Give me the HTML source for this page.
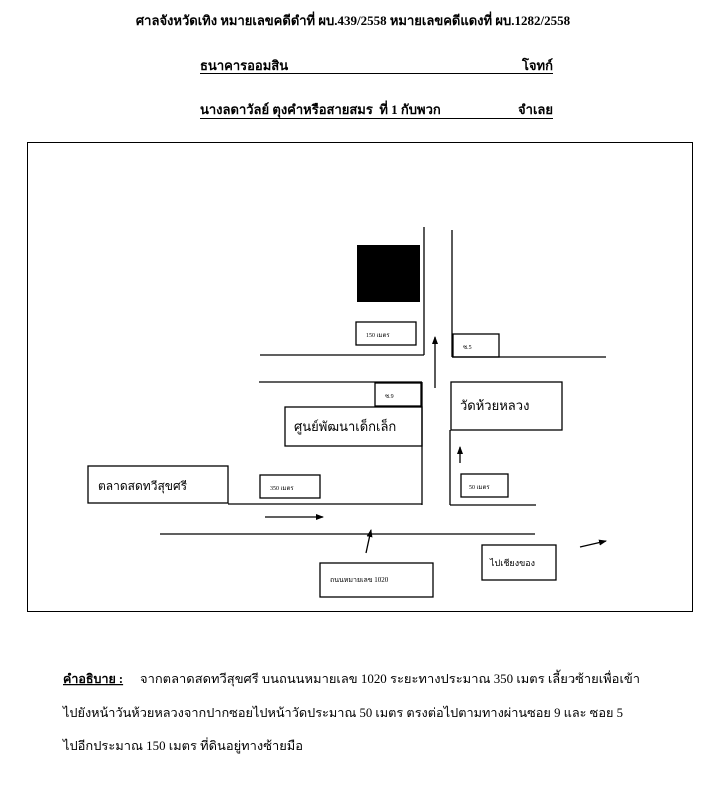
<!DOCTYPE html>
<html><head><meta charset="utf-8"><style>
body{margin:0;width:707px;height:800px;background:#fff;overflow:hidden}
svg{position:absolute;left:0;top:0}
text{font-family:"Liberation Serif","DejaVu Serif",serif;fill:#000}
</style></head><body>
<svg width="707" height="800" viewBox="0 0 707 800">
<defs><marker id="a" markerWidth="8" markerHeight="8" refX="7" refY="4" orient="auto" markerUnits="userSpaceOnUse"><path d="M0,1 L8,4 L0,7 Z" fill="#000"/></marker></defs>
<text x="353" y="25" font-size="13" font-weight="bold" text-anchor="middle">ศาลจังหวัดเทิง หมายเลขคดีดำที่ ผบ.439/2558 หมายเลขคดีแดงที่ ผบ.1282/2558</text>
<text x="200" y="70" font-size="13" font-weight="bold">ธนาคารออมสิน</text>
<text x="553" y="70" font-size="13" font-weight="bold" text-anchor="end">โจทก์</text>
<line x1="200" y1="73.5" x2="553" y2="73.5" stroke="#000" stroke-width="1"/>
<text x="200" y="114" font-size="13" font-weight="bold">นางลดาวัลย์ ตุงคำหรือสายสมร &#160;ที่ 1 กับพวก</text>
<text x="553" y="114" font-size="13" font-weight="bold" text-anchor="end">จำเลย</text>
<line x1="200" y1="118.5" x2="553" y2="118.5" stroke="#000" stroke-width="1"/>
<rect x="27.5" y="142.5" width="665" height="469" fill="none" stroke="#000" stroke-width="1"/>
<g stroke="#000" stroke-width="1.3" fill="none">
<line x1="424" y1="227" x2="424" y2="355"/>
<line x1="260" y1="355" x2="424" y2="355"/>
<line x1="452" y1="230" x2="452" y2="357"/>
<line x1="452" y1="357" x2="606" y2="357"/>
<line x1="259" y1="382" x2="422" y2="382"/>
<line x1="422" y1="382" x2="422" y2="505"/>
<line x1="450" y1="430" x2="450" y2="505"/>
<line x1="450" y1="505" x2="536" y2="505"/>
<line x1="228" y1="504" x2="422" y2="504"/>
<line x1="160" y1="534" x2="535" y2="534"/>
<rect x="356" y="322" width="60" height="23"/>
<rect x="453" y="334" width="46" height="23"/>
<rect x="375" y="383" width="46" height="23"/>
<rect x="285" y="407" width="137" height="39"/>
<rect x="451" y="382" width="111" height="48"/>
<rect x="461" y="474" width="47" height="23"/>
<rect x="260" y="475" width="60" height="23"/>
<rect x="88" y="466" width="140" height="37"/>
<rect x="320" y="563" width="113" height="34"/>
<rect x="482" y="545" width="74" height="35"/>
<line x1="435" y1="388" x2="435" y2="337" marker-end="url(#a)"/>
<line x1="460" y1="463" x2="460" y2="447" marker-end="url(#a)"/>
<line x1="265" y1="517" x2="323" y2="517" marker-end="url(#a)"/>
<line x1="366" y1="553" x2="371" y2="530" marker-end="url(#a)"/>
<line x1="580" y1="547" x2="606" y2="541" marker-end="url(#a)"/>
</g>
<rect x="357" y="245" width="63" height="57" fill="#000"/>
<text x="366" y="337" font-size="6">150 เมตร</text>
<text x="463" y="349" font-size="6">ซ.5</text>
<text x="385" y="398" font-size="6">ซ.9</text>
<text x="294" y="431" font-size="13">ศูนย์พัฒนาเด็กเล็ก</text>
<text x="460" y="410" font-size="13">วัดห้วยหลวง</text>
<text x="469" y="489" font-size="6">50 เมตร</text>
<text x="270" y="490" font-size="6">350 เมตร</text>
<text x="98" y="490" font-size="12">ตลาดสดทวีสุขศรี</text>
<text x="330" y="582" font-size="7">ถนนหมายเลข 1020</text>
<text x="490" y="566" font-size="9">ไปเชียงของ</text>
<text x="63" y="683" font-size="12.5" font-weight="bold" text-decoration="underline">คำอธิบาย :</text>
<text x="140" y="683" font-size="12.5" textLength="500" lengthAdjust="spacingAndGlyphs">จากตลาดสดทวีสุขศรี บนถนนหมายเลข 1020 ระยะทางประมาณ 350 เมตร เลี้ยวซ้ายเพื่อเข้า</text>
<text x="63" y="717" font-size="12.5" textLength="560" lengthAdjust="spacingAndGlyphs">ไปยังหน้าวันห้วยหลวงจากปากซอยไปหน้าวัดประมาณ 50 เมตร ตรงต่อไปตามทางผ่านซอย 9 และ ซอย 5</text>
<text x="63" y="750" font-size="12.5" textLength="240" lengthAdjust="spacingAndGlyphs">ไปอีกประมาณ 150 เมตร ที่ดินอยู่ทางซ้ายมือ</text>
</svg>
</body></html>
